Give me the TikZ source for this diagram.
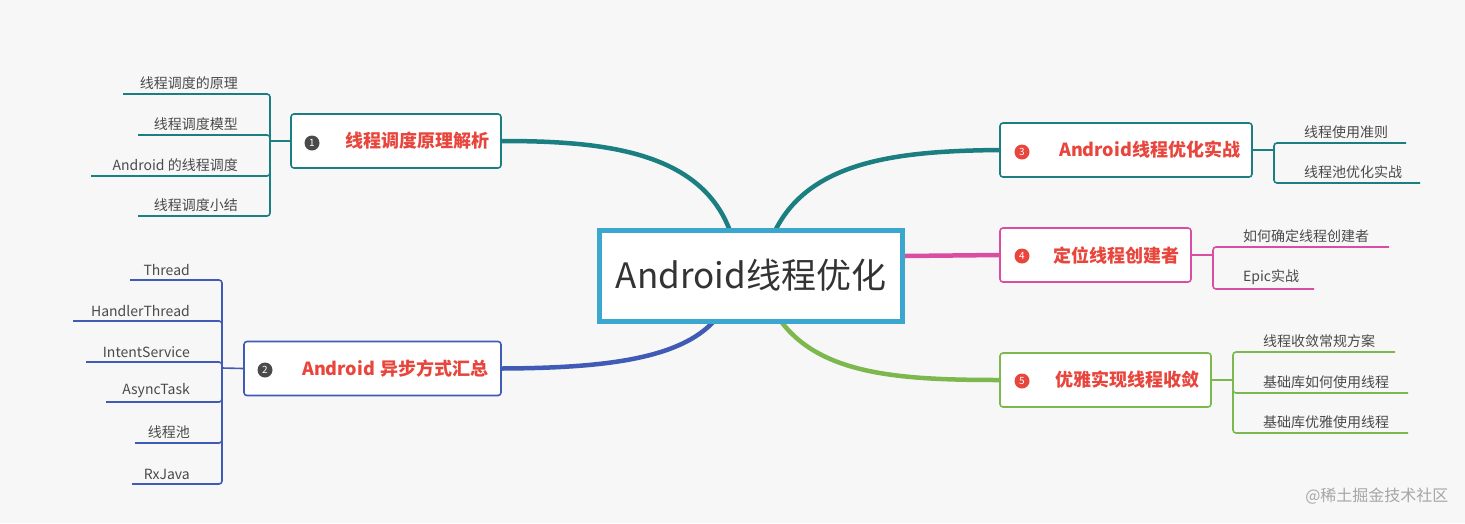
\documentclass[tikz,border=0pt]{standalone}
\usepackage{fontspec}
\setmainfont{Noto Sans CJK SC}
\usetikzlibrary{positioning,backgrounds}
\definecolor{teal1}{HTML}{1B7E80}
\definecolor{blue2}{HTML}{3F5BB5}
\definecolor{pink4}{HTML}{D94DA2}
\definecolor{green5}{HTML}{7DB84E}
\definecolor{cyan0}{HTML}{3BA7CF}
\definecolor{red0}{HTML}{E8453C}
\definecolor{dark0}{HTML}{4A4A4A}
\definecolor{bg0}{HTML}{F7F7F7}
\tikzset{
  topic/.style={draw=#1, line width=1.6, rounded corners=3, fill=white, minimum height=54, inner xsep=12,
    font=\fontsize{18}{20}\selectfont\bfseries, text=red0, align=right},
  num/.style={circle, fill=#1, text=white, inner sep=0, minimum size=15, font=\fontsize{10}{10}\selectfont},
  leaf/.style={anchor=south east, inner sep=2, font=\fontsize{14}{16}\selectfont, text=dark0},
  rleaf/.style={anchor=south west, inner sep=2, font=\fontsize{14}{16}\selectfont, text=dark0},
  twig/.style={draw=#1, line width=1.6, rounded corners=3},
  limb/.style={draw=#1, line width=4.5, line cap=round},
}
\begin{document}
\begin{tikzpicture}[x=1pt,y=-1pt]
\useasboundingbox (0,0) rectangle (1465,523);
% centre
\node[draw=cyan0, line width=5, fill=white, minimum width=303, minimum height=91,
  font=\fontsize{35}{38}\selectfont, text=black!80] (root) at (751,275.5) {Android线程优化};
% topics
\node[topic=teal1, minimum width=210, text width=186] (t1) at (396,141) {线程调度原理解析};
\node[num=dark0] at (312,143) {1};
\node[topic=blue2, minimum width=257, text width=233] (t2) at (372.5,368.5) {Android 异步方式汇总};
\node[num=dark0] at (265,370) {2};
\node[topic=teal1, minimum width=252, text width=228] (t3) at (1126,150) {Android线程优化实战};
\node[num=red0] at (1022,152) {3};
\node[topic=pink4, minimum width=191, text width=167] (t4) at (1095.5,255) {定位线程创建者};
\node[num=red0] at (1022,256) {4};
\node[topic=green5, minimum width=211, text width=187] (t5) at (1105.5,380) {优雅实现线程收敛};
\node[num=red0] at (1022,381) {5};
% limbs
\begin{scope}[on background layer]
\fill[bg0] (0,0) rectangle (1465,523);
\draw[limb=teal1] (730,231) .. controls (700,150) and (600,141) .. (t1.east);
\draw[limb=blue2] (715,320) .. controls (680,360) and (600,368) .. (t2.east);
\draw[limb=teal1] (775,231) .. controls (810,160) and (900,151) .. (t3.west);
\draw[limb=pink4] (root.east |- 0,256) -- (t4.west);
\draw[limb=green5] (780,320) .. controls (820,375) and (900,380) .. (t5.west);
\end{scope}
% left leaves
\draw[twig=teal1] (t1.west) -- (270,141);
\foreach \y/\x/\txt [count=\i] in {94/123/线程调度的原理, 135/138/线程调度模型, 176/91/Android 的线程调度, 216/138/线程调度小结}{
  \coordinate (a\i) at (\x,\y);
  \draw[twig=teal1] (270,141) |- (a\i);
  \node[leaf] (l\i) at (240,\y-2) {\txt};
}
\draw[twig=blue2] (t2.west) -- (222,368);
\foreach \y/\x/\txt [count=\i] in {280/130/Thread, 321/73/HandlerThread, 362/86/IntentService, 402/106/AsyncTask, 443/135/线程池, 484/132/RxJava}{
  \coordinate (b\i) at (\x,\y);
  \draw[twig=blue2] (222,368) |- (b\i);
  \node[leaf] (m\i) at (192,\y-2) {\txt};
}
% right leaves
\draw[twig=teal1] (t3.east) -- (1274,150);
\foreach \y/\x/\txt [count=\i] in {143/1406/线程使用准则, 183/1420/线程池优化实战}{
  \coordinate (c\i) at (\x,\y);
  \draw[twig=teal1] (1274,150) |- (c\i);
  \node[rleaf] (n\i) at (1302,\y-2) {\txt};
}
\draw[twig=pink4] (t4.east) -- (1213,255);
\foreach \y/\x/\txt [count=\i] in {247/1389/如何确定线程创建者, 289/1314/Epic实战}{
  \coordinate (d\i) at (\x,\y);
  \draw[twig=pink4] (1213,255) |- (d\i);
  \node[rleaf] (o\i) at (1241,\y-2) {\txt};
}
\draw[twig=green5] (t5.east) -- (1233,380);
\foreach \y/\x/\txt [count=\i] in {352/1395/线程收敛常规方案, 393/1408/基础库如何使用线程, 433/1408/基础库优雅使用线程}{
  \coordinate (e\i) at (\x,\y);
  \draw[twig=green5] (1233,380) |- (e\i);
  \node[rleaf] (p\i) at (1261,\y-2) {\txt};
}
\node[anchor=east, text=black!35, font=\fontsize{16}{16}\selectfont] (mark) at (1452,496) {@稀土掘金技术社区};
\end{tikzpicture}
\end{document}
